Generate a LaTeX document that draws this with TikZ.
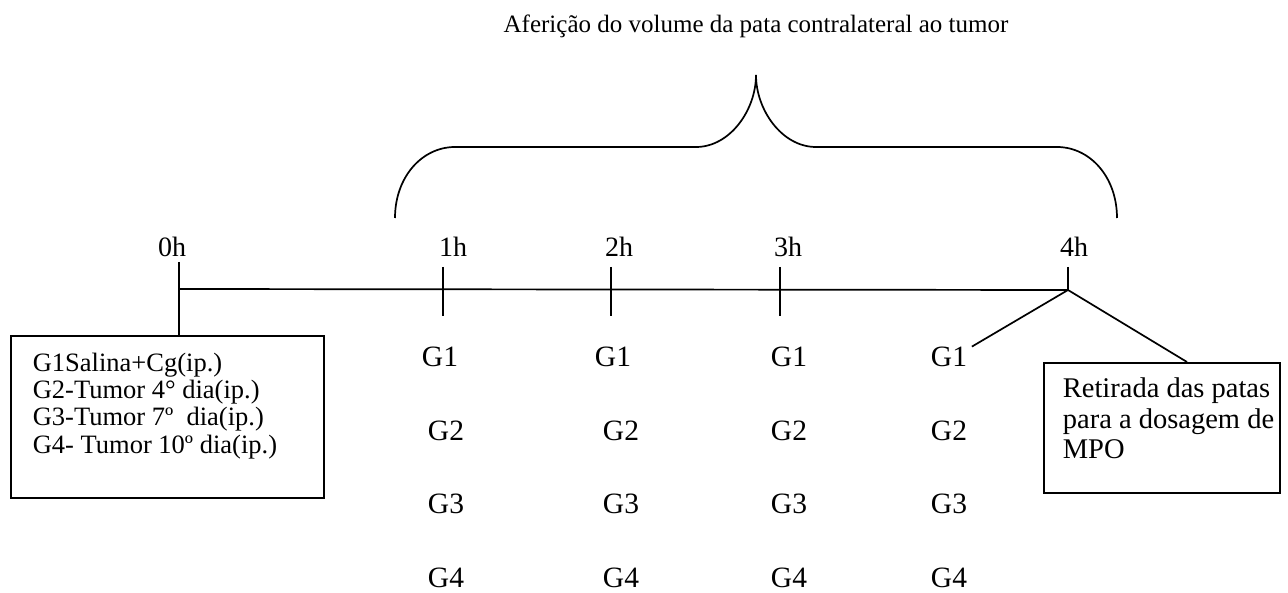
\documentclass[tikz,border=0pt]{standalone}
\usepackage{fontspec}
\setmainfont{Liberation Serif}
\begin{document}
\begin{tikzpicture}[x=1pt,y=-1pt,line width=1.7pt,
  hourlbl/.style={inner sep=0,anchor=base,font=\fontsize{28}{30}\selectfont},
  glbl/.style={inner sep=0,anchor=base,font=\fontsize{29.5}{31}\selectfont},
  framebox/.style={draw,inner sep=0,anchor=north west},
  boxtext/.style={inner sep=0,anchor=north west,align=left}]
\useasboundingbox (0,0) rectangle (1288,593);
% title
\node[inner sep=0,anchor=base,font=\fontsize{25}{27}\selectfont] (title) at (756,33) {Aferição do volume da pata contralateral ao tumor};
% brace
\draw (395,218) .. controls (395,177) and (422,147) .. (455,147) -- (696,147)
  .. controls (730,147) and (756,110) .. (756,75)
  .. controls (756,110) and (782,147) .. (816,147) -- (1057,147)
  .. controls (1090,147) and (1117,177) .. (1117,218);
% hour labels
\node[hourlbl] (h0) at (172,257) {0h};
\node[hourlbl] (h1) at (453,257) {1h};
\node[hourlbl] (h2) at (619,257) {2h};
\node[hourlbl] (h3) at (788,257) {3h};
\node[hourlbl] (h4) at (1074,257) {4h};
% timeline
\coordinate (t0) at (179,289);
\coordinate (t4) at (1068,290);
\draw (t0) -- (t4);
\foreach \x/\n in {443/1,611/2,780/3}{
  \coordinate (tk\n a) at (\x,267);
  \coordinate (tk\n b) at (\x,316);
  \draw (tk\n a) -- (tk\n b);
}
\coordinate (t4top) at (1068,267);
\draw (t4top) -- (t4);
% left box
\node[framebox,minimum width=313pt,minimum height=162pt] (lbox) at (10,335) {};
\coordinate (t0top) at (179,262);
\draw (t0top) -- (t0top |- lbox.north);
\node[boxtext,font=\fontsize{26.5}{27.3}\selectfont] (ltext) at (32,352)
  {G1Salina+Cg(ip.)\\G2-Tumor 4° dia(ip.)\\G3-Tumor 7º\ \ dia(ip.)\\G4- Tumor 10º dia(ip.)};
% right box
\node[framebox,minimum width=236pt,minimum height=130pt] (rbox) at (1043,362) {};
\node[boxtext,font=\fontsize{28.5}{30.5}\selectfont] (rtext) at (1062,377)
  {Retirada das patas\\para a dosagem de\\MPO};
% group labels
\foreach \c/\xa/\xb in {1/440/446,2/613/621,3/789/789,4/949/949}{
  \node[glbl] (g1c\c) at (\xa,367) {G1};
  \node[glbl] (g2c\c) at (\xb,440) {G2};
  \node[glbl] (g3c\c) at (\xb,513) {G3};
  \node[glbl] (g4c\c) at (\xb,587) {G4};
}
% 4h connectors
\coordinate (rbend) at (1187,362);
\draw ([xshift=4pt]g1c4.north east) -- (t4) -- (rbend);
\end{tikzpicture}
\end{document}
